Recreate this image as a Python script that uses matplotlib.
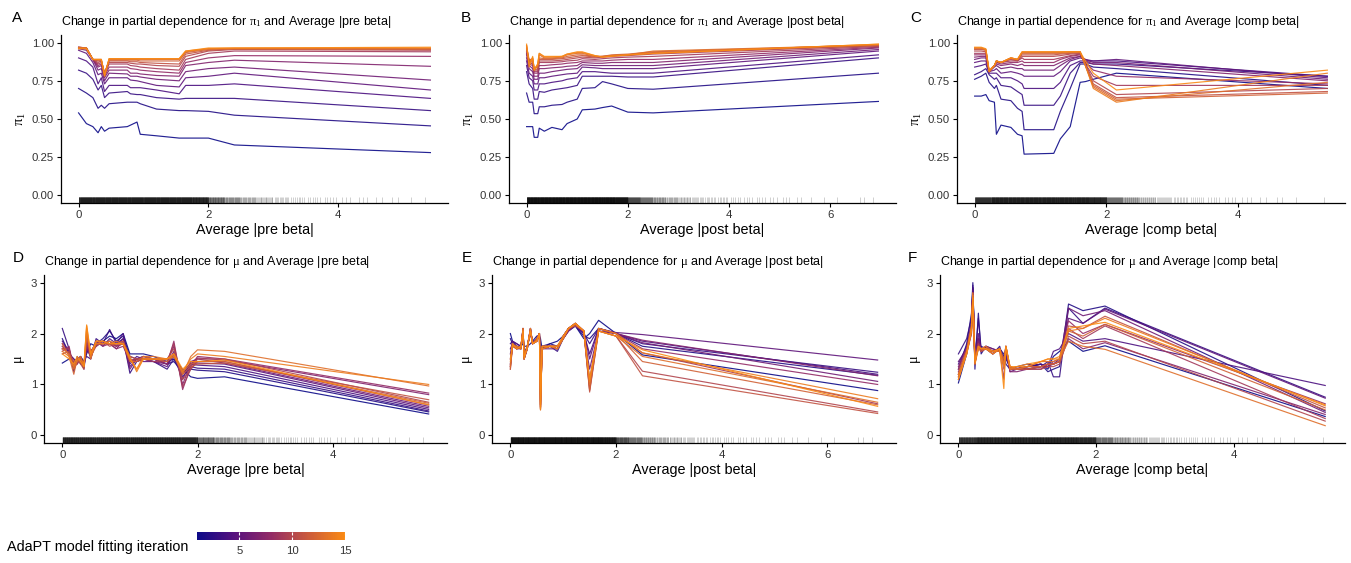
import numpy as np
import matplotlib.pyplot as plt
from matplotlib.colors import LinearSegmentedColormap, Normalize
from matplotlib.cm import ScalarMappable

plt.rcParams['font.family'] = ['Liberation Sans', 'DejaVu Sans']
plt.rcParams['mathtext.fontset'] = 'custom'
plt.rcParams['mathtext.rm'] = 'Liberation Serif'
plt.rcParams['mathtext.it'] = 'Liberation Serif'
plt.rcParams['mathtext.default'] = 'rm'

iterations = list(range(1, 16))

# ---- partial dependence, pi1 vs average |pre beta| ----
x_pre_pi = [0, 0.12, 0.22, 0.3, 0.35, 0.4, 0.47, 0.75, 0.8, 0.9, 0.95, 1.2, 1.55, 1.65, 2.0, 2.4, 5.42]
pi_pre = [
    [0.54, 0.47, 0.45, 0.41, 0.45, 0.42, 0.44, 0.45, 0.46, 0.48, 0.40, 0.39, 0.375, 0.375, 0.375, 0.33, 0.28],
    [0.70, 0.67, 0.64, 0.57, 0.59, 0.57, 0.60, 0.61, 0.61, 0.61, 0.60, 0.565, 0.555, 0.555, 0.55, 0.525, 0.455],
    [0.82, 0.80, 0.76, 0.69, 0.72, 0.64, 0.67, 0.68, 0.665, 0.66, 0.66, 0.64, 0.63, 0.635, 0.635, 0.635, 0.555],
    [0.90, 0.88, 0.84, 0.73, 0.77, 0.68, 0.72, 0.72, 0.705, 0.705, 0.705, 0.69, 0.665, 0.72, 0.72, 0.73, 0.635],
    [0.95, 0.93, 0.87, 0.79, 0.80, 0.73, 0.77, 0.77, 0.755, 0.75, 0.745, 0.72, 0.71, 0.77, 0.78, 0.80, 0.69],
    [0.96, 0.95, 0.89, 0.82, 0.83, 0.75, 0.80, 0.795, 0.78, 0.78, 0.775, 0.76, 0.75, 0.81, 0.83, 0.84, 0.755],
    [0.965, 0.96, 0.89, 0.84, 0.85, 0.77, 0.82, 0.82, 0.80, 0.80, 0.795, 0.785, 0.78, 0.85, 0.87, 0.885, 0.845],
    [0.965, 0.96, 0.89, 0.85, 0.86, 0.78, 0.84, 0.84, 0.83, 0.825, 0.82, 0.81, 0.80, 0.87, 0.90, 0.915, 0.91],
    [0.97, 0.965, 0.89, 0.86, 0.87, 0.79, 0.86, 0.86, 0.85, 0.845, 0.84, 0.83, 0.82, 0.89, 0.93, 0.945, 0.94],
    [0.97, 0.965, 0.89, 0.87, 0.88, 0.80, 0.87, 0.87, 0.865, 0.86, 0.86, 0.85, 0.845, 0.91, 0.945, 0.955, 0.95],
    [0.97, 0.965, 0.89, 0.88, 0.88, 0.80, 0.88, 0.88, 0.875, 0.875, 0.87, 0.865, 0.86, 0.925, 0.95, 0.96, 0.955],
    [0.965, 0.965, 0.89, 0.885, 0.885, 0.80, 0.885, 0.885, 0.885, 0.885, 0.88, 0.88, 0.88, 0.935, 0.955, 0.96, 0.96],
    [0.965, 0.965, 0.89, 0.89, 0.89, 0.79, 0.89, 0.89, 0.89, 0.89, 0.89, 0.89, 0.89, 0.94, 0.96, 0.96, 0.96],
    [0.965, 0.965, 0.89, 0.89, 0.89, 0.785, 0.895, 0.895, 0.895, 0.895, 0.895, 0.895, 0.895, 0.945, 0.96, 0.965, 0.965],
    [0.96, 0.96, 0.89, 0.89, 0.89, 0.78, 0.895, 0.895, 0.895, 0.895, 0.895, 0.895, 0.895, 0.945, 0.965, 0.965, 0.97],
]

# ---- pi1 vs average |post beta| ----
x_post_pi = [0, 0.05, 0.12, 0.15, 0.22, 0.25, 0.35, 0.5, 0.7, 0.8, 1.0, 1.1, 1.35, 1.5, 1.68, 2.0, 2.5, 6.95]
pi_post = [
    [0.45, 0.45, 0.45, 0.38, 0.38, 0.44, 0.42, 0.445, 0.43, 0.47, 0.50, 0.56, 0.565, 0.575, 0.585, 0.545, 0.54, 0.615],
    [0.67, 0.61, 0.61, 0.535, 0.535, 0.58, 0.58, 0.59, 0.595, 0.61, 0.63, 0.70, 0.705, 0.745, 0.73, 0.70, 0.695, 0.80],
    [0.81, 0.73, 0.70, 0.63, 0.63, 0.68, 0.675, 0.69, 0.70, 0.705, 0.72, 0.78, 0.78, 0.78, 0.78, 0.775, 0.775, 0.90],
    [0.85, 0.77, 0.75, 0.69, 0.69, 0.73, 0.73, 0.74, 0.75, 0.76, 0.77, 0.81, 0.81, 0.805, 0.80, 0.80, 0.80, 0.92],
    [0.88, 0.80, 0.78, 0.73, 0.73, 0.77, 0.77, 0.78, 0.79, 0.795, 0.80, 0.84, 0.835, 0.83, 0.83, 0.83, 0.83, 0.945],
    [0.90, 0.83, 0.81, 0.76, 0.76, 0.80, 0.80, 0.81, 0.82, 0.825, 0.83, 0.855, 0.85, 0.85, 0.85, 0.85, 0.85, 0.955],
    [0.92, 0.85, 0.83, 0.78, 0.78, 0.83, 0.83, 0.835, 0.84, 0.845, 0.85, 0.87, 0.865, 0.865, 0.87, 0.87, 0.87, 0.965],
    [0.93, 0.86, 0.85, 0.80, 0.80, 0.85, 0.85, 0.855, 0.86, 0.865, 0.87, 0.88, 0.88, 0.88, 0.885, 0.89, 0.89, 0.97],
    [0.94, 0.87, 0.86, 0.81, 0.81, 0.87, 0.87, 0.87, 0.875, 0.88, 0.885, 0.895, 0.89, 0.895, 0.90, 0.905, 0.91, 0.975],
    [0.95, 0.88, 0.87, 0.82, 0.82, 0.88, 0.88, 0.88, 0.885, 0.89, 0.90, 0.905, 0.90, 0.905, 0.91, 0.915, 0.925, 0.98],
    [0.96, 0.88, 0.88, 0.82, 0.83, 0.89, 0.89, 0.89, 0.895, 0.90, 0.91, 0.915, 0.905, 0.91, 0.915, 0.92, 0.935, 0.98],
    [0.97, 0.89, 0.89, 0.83, 0.84, 0.90, 0.895, 0.895, 0.90, 0.91, 0.92, 0.92, 0.91, 0.91, 0.92, 0.925, 0.94, 0.985],
    [0.98, 0.87, 0.90, 0.83, 0.85, 0.92, 0.90, 0.90, 0.905, 0.92, 0.93, 0.93, 0.91, 0.91, 0.915, 0.92, 0.945, 0.985],
    [0.98, 0.86, 0.90, 0.82, 0.86, 0.93, 0.905, 0.905, 0.91, 0.925, 0.935, 0.935, 0.915, 0.905, 0.915, 0.92, 0.93, 0.99],
    [0.99, 0.84, 0.91, 0.82, 0.86, 0.93, 0.91, 0.91, 0.91, 0.925, 0.94, 0.94, 0.915, 0.905, 0.91, 0.92, 0.93, 0.99],
]

# ---- pi1 vs average |comp beta| ----
x_comp_pi = [0, 0.1, 0.17, 0.22, 0.3, 0.33, 0.4, 0.55, 0.65, 0.72, 0.75, 1.2, 1.3, 1.45, 1.6, 1.68, 1.8, 2.15, 5.35]
pi_comp = [
    [0.65, 0.65, 0.66, 0.62, 0.61, 0.40, 0.46, 0.445, 0.40, 0.39, 0.27, 0.275, 0.37, 0.45, 0.74, 0.745, 0.76, 0.80, 0.70],
    [0.76, 0.78, 0.80, 0.74, 0.70, 0.72, 0.63, 0.62, 0.57, 0.55, 0.43, 0.43, 0.55, 0.70, 0.86, 0.86, 0.84, 0.83, 0.72],
    [0.79, 0.81, 0.83, 0.79, 0.76, 0.77, 0.72, 0.71, 0.68, 0.66, 0.59, 0.59, 0.65, 0.80, 0.87, 0.87, 0.86, 0.86, 0.78],
    [0.84, 0.85, 0.86, 0.80, 0.80, 0.80, 0.77, 0.77, 0.75, 0.73, 0.70, 0.70, 0.74, 0.85, 0.88, 0.88, 0.88, 0.88, 0.78],
    [0.87, 0.88, 0.88, 0.81, 0.82, 0.83, 0.80, 0.81, 0.80, 0.79, 0.78, 0.78, 0.81, 0.88, 0.90, 0.89, 0.88, 0.89, 0.77],
    [0.89, 0.90, 0.90, 0.81, 0.84, 0.85, 0.83, 0.84, 0.83, 0.83, 0.82, 0.82, 0.85, 0.89, 0.91, 0.89, 0.87, 0.87, 0.76],
    [0.905, 0.91, 0.91, 0.81, 0.85, 0.86, 0.85, 0.86, 0.85, 0.86, 0.85, 0.85, 0.87, 0.90, 0.91, 0.88, 0.86, 0.85, 0.75],
    [0.92, 0.92, 0.92, 0.81, 0.85, 0.87, 0.86, 0.87, 0.87, 0.88, 0.87, 0.87, 0.89, 0.91, 0.92, 0.87, 0.82, 0.78, 0.73],
    [0.93, 0.93, 0.93, 0.81, 0.85, 0.87, 0.87, 0.88, 0.88, 0.90, 0.89, 0.89, 0.90, 0.915, 0.925, 0.86, 0.78, 0.72, 0.72],
    [0.945, 0.945, 0.94, 0.81, 0.85, 0.88, 0.87, 0.89, 0.88, 0.91, 0.91, 0.91, 0.915, 0.925, 0.93, 0.86, 0.75, 0.66, 0.70],
    [0.955, 0.955, 0.95, 0.81, 0.85, 0.88, 0.87, 0.895, 0.885, 0.92, 0.92, 0.92, 0.925, 0.93, 0.935, 0.85, 0.73, 0.64, 0.68],
    [0.96, 0.96, 0.95, 0.81, 0.85, 0.88, 0.87, 0.90, 0.89, 0.93, 0.93, 0.93, 0.93, 0.935, 0.94, 0.85, 0.72, 0.63, 0.67],
    [0.965, 0.965, 0.955, 0.81, 0.85, 0.88, 0.87, 0.90, 0.89, 0.935, 0.935, 0.935, 0.935, 0.94, 0.94, 0.85, 0.71, 0.62, 0.74],
    [0.965, 0.965, 0.955, 0.81, 0.85, 0.88, 0.87, 0.90, 0.89, 0.94, 0.94, 0.94, 0.94, 0.94, 0.94, 0.85, 0.70, 0.61, 0.80],
    [0.97, 0.97, 0.96, 0.82, 0.85, 0.88, 0.87, 0.90, 0.89, 0.94, 0.94, 0.94, 0.94, 0.94, 0.94, 0.88, 0.80, 0.69, 0.82],
]

# ---- mu vs average |pre beta| ----
x_pre_mu = [0, 0.1, 0.17, 0.22, 0.27, 0.32, 0.36, 0.42, 0.5, 0.6, 0.7, 0.8, 0.9, 1.0, 1.1, 1.2, 1.35, 1.55, 1.65, 1.78, 1.9, 2.0, 2.4, 5.42]
mu_pre = [
    [1.42, 1.5, 1.45, 1.5, 1.55, 1.45, 1.6, 1.8, 1.75, 1.85, 1.95, 1.9, 2.0, 1.6, 1.6, 1.6, 1.55, 1.45, 1.5, 1.3, 1.15, 1.12, 1.15, 0.42],
    [1.9, 1.6, 1.5, 1.45, 1.5, 1.35, 1.7, 1.65, 1.8, 1.9, 2.05, 1.85, 1.95, 1.55, 1.5, 1.55, 1.5, 1.4, 1.45, 1.25, 1.3, 1.28, 1.25, 0.46],
    [2.1, 1.7, 1.25, 1.55, 1.4, 1.45, 1.55, 1.5, 1.9, 1.8, 2.08, 1.8, 1.9, 1.22, 1.45, 1.5, 1.45, 1.3, 1.5, 1.15, 1.35, 1.32, 1.3, 0.48],
    [1.85, 1.65, 1.4, 1.5, 1.45, 1.3, 1.75, 1.6, 1.85, 1.75, 1.9, 1.8, 2.0, 1.4, 1.55, 1.5, 1.5, 1.4, 1.55, 1.2, 1.4, 1.38, 1.35, 0.51],
    [1.75, 1.6, 1.5, 1.4, 1.55, 1.4, 1.7, 1.55, 1.8, 1.8, 1.85, 1.75, 1.9, 1.35, 1.5, 1.45, 1.45, 1.35, 1.6, 1.25, 1.42, 1.42, 1.4, 0.54],
    [1.8, 1.65, 1.35, 1.45, 1.5, 1.35, 1.8, 1.65, 1.75, 1.85, 1.8, 1.7, 1.85, 1.3, 1.5, 1.5, 1.45, 1.4, 1.65, 1.1, 1.45, 1.5, 1.42, 0.57],
    [1.7, 1.7, 1.3, 1.5, 1.5, 1.4, 1.75, 1.55, 1.8, 1.8, 1.85, 1.75, 1.8, 1.5, 1.45, 1.5, 1.5, 1.45, 1.75, 1.0, 1.4, 1.52, 1.48, 0.80],
    [1.65, 1.75, 1.3, 1.45, 1.55, 1.35, 1.8, 1.5, 1.85, 1.75, 1.8, 1.7, 1.75, 1.45, 1.5, 1.55, 1.5, 1.4, 1.85, 0.9, 1.35, 1.55, 1.5, 0.83],
    [1.7, 1.7, 1.35, 1.4, 1.5, 1.4, 1.85, 1.6, 1.8, 1.8, 1.8, 1.75, 1.8, 1.45, 1.5, 1.5, 1.45, 1.45, 1.8, 0.95, 1.3, 1.45, 1.45, 0.60],
    [1.6, 1.65, 1.4, 1.45, 1.45, 1.35, 1.9, 1.55, 1.75, 1.85, 1.75, 1.8, 1.85, 1.5, 1.45, 1.5, 1.5, 1.5, 1.7, 1.1, 1.3, 1.5, 1.5, 0.65],
    [1.75, 1.6, 1.45, 1.5, 1.4, 1.3, 1.95, 1.65, 1.8, 1.8, 1.8, 1.8, 1.85, 1.55, 1.5, 1.5, 1.5, 1.5, 1.6, 1.2, 1.35, 1.4, 1.42, 0.70],
    [1.8, 1.55, 1.2, 1.5, 1.45, 1.35, 2.0, 1.6, 1.85, 1.8, 1.8, 1.8, 1.8, 1.45, 1.45, 1.55, 1.5, 1.45, 1.55, 1.25, 1.4, 1.45, 1.45, 0.63],
    [1.7, 1.6, 1.3, 1.45, 1.55, 1.35, 2.1, 1.5, 1.85, 1.85, 1.8, 1.85, 1.8, 1.5, 1.3, 1.55, 1.55, 1.5, 1.6, 1.2, 1.55, 1.68, 1.65, 0.97],
    [1.65, 1.55, 1.35, 1.5, 1.5, 1.4, 2.15, 1.55, 1.8, 1.8, 1.85, 1.8, 1.8, 1.55, 1.25, 1.5, 1.5, 1.5, 1.55, 1.25, 1.5, 1.6, 1.55, 1.0],
    [1.6, 1.5, 1.4, 1.55, 1.45, 1.35, 2.17, 1.6, 1.85, 1.85, 1.8, 1.8, 1.8, 1.5, 1.3, 1.5, 1.5, 1.5, 1.6, 1.3, 1.45, 1.45, 1.48, 0.60],
]

# ---- mu vs average |post beta| ----
x_post_mu = [0, 0.04, 0.12, 0.2, 0.24, 0.26, 0.32, 0.38, 0.42, 0.5, 0.55, 0.57, 0.6, 0.75, 0.89, 1.0, 1.1, 1.23, 1.39, 1.5, 1.67, 2.0, 2.5, 6.95]
mu_post = [
    [2.0, 1.85, 1.8, 1.75, 1.8, 1.75, 1.75, 1.8, 1.85, 1.95, 1.95, 1.9, 1.7, 1.8, 1.85, 1.95, 2.1, 2.15, 1.9, 2.0, 2.26, 2.0, 1.58, 0.88],
    [1.9, 1.8, 1.75, 1.7, 2.05, 1.6, 1.75, 2.05, 1.8, 1.9, 2.0, 1.3, 1.75, 1.8, 1.75, 1.9, 2.05, 2.15, 1.95, 1.9, 2.1, 2.0, 1.75, 1.18],
    [1.8, 1.85, 1.75, 1.75, 2.1, 1.55, 1.75, 2.1, 1.8, 1.9, 2.0, 1.0, 1.7, 1.75, 1.65, 1.9, 2.1, 2.15, 2.0, 1.8, 2.1, 2.0, 1.8, 1.24],
    [1.7, 1.8, 1.7, 1.75, 2.05, 1.5, 1.7, 2.05, 1.85, 1.85, 2.0, 0.9, 1.7, 1.75, 1.7, 1.95, 2.1, 2.15, 2.0, 1.6, 2.1, 2.0, 1.85, 1.20],
    [1.6, 1.85, 1.8, 1.75, 2.0, 1.55, 1.75, 2.0, 1.8, 1.9, 2.0, 0.8, 1.75, 1.75, 1.75, 1.9, 2.05, 2.15, 2.05, 1.5, 2.1, 2.02, 1.98, 1.48],
    [1.5, 1.8, 1.7, 1.7, 2.1, 1.5, 1.7, 2.1, 1.8, 1.85, 2.0, 0.7, 1.7, 1.7, 1.7, 1.9, 2.1, 2.2, 2.0, 1.3, 2.05, 2.0, 1.82, 1.06],
    [1.4, 1.75, 1.75, 1.7, 2.05, 1.55, 1.75, 2.05, 1.8, 1.85, 2.0, 0.6, 1.7, 1.75, 1.7, 1.95, 2.1, 2.2, 2.05, 1.1, 2.05, 2.0, 1.87, 1.17],
    [1.35, 1.8, 1.7, 1.75, 2.1, 1.5, 1.7, 2.1, 1.8, 1.85, 2.0, 0.55, 1.7, 1.75, 1.75, 1.9, 2.05, 2.2, 2.05, 1.0, 2.1, 2.0, 1.7, 1.0],
    [1.3, 1.75, 1.7, 1.75, 2.05, 1.5, 1.75, 2.05, 1.8, 1.9, 2.0, 0.52, 1.7, 1.75, 1.7, 1.95, 2.1, 2.2, 2.05, 0.95, 2.1, 2.0, 1.62, 0.62],
    [1.35, 1.8, 1.75, 1.7, 2.1, 1.55, 1.7, 2.1, 1.8, 1.85, 2.0, 0.55, 1.75, 1.75, 1.75, 1.9, 2.1, 2.2, 2.05, 0.88, 2.05, 1.95, 1.26, 0.46],
    [1.4, 1.75, 1.7, 1.75, 2.05, 1.5, 1.75, 2.05, 1.8, 1.85, 2.0, 0.6, 1.7, 1.75, 1.75, 1.9, 2.1, 2.15, 2.05, 0.85, 2.05, 1.95, 1.17, 0.43],
    [1.3, 1.75, 1.75, 1.7, 2.1, 1.55, 1.7, 2.1, 1.8, 1.85, 2.0, 0.55, 1.7, 1.75, 1.7, 1.9, 2.1, 2.2, 2.05, 0.9, 2.1, 2.0, 1.45, 0.60],
    [1.35, 1.8, 1.7, 1.75, 2.05, 1.5, 1.75, 2.05, 1.8, 1.9, 2.0, 0.5, 1.75, 1.75, 1.75, 1.95, 2.1, 2.2, 2.05, 1.0, 2.05, 1.95, 1.55, 0.65],
    [1.45, 1.75, 1.75, 1.7, 2.1, 1.55, 1.7, 2.1, 1.8, 1.85, 2.0, 0.5, 1.7, 1.75, 1.7, 1.9, 2.1, 2.18, 2.05, 1.05, 2.1, 2.0, 1.62, 0.72],
    [1.5, 1.8, 1.7, 1.75, 2.05, 1.5, 1.75, 2.05, 1.8, 1.85, 2.0, 0.52, 1.75, 1.75, 1.75, 1.95, 2.1, 2.2, 2.05, 1.1, 2.05, 1.95, 1.68, 0.57],
]

# ---- mu vs average |comp beta| ----
x_comp_mu = [0, 0.12, 0.19, 0.21, 0.24, 0.29, 0.33, 0.4, 0.5, 0.6, 0.66, 0.69, 0.75, 0.85, 1.0, 1.2, 1.3, 1.38, 1.47, 1.6, 1.81, 2.13, 5.33]
mu_comp = [
    [1.03, 1.6, 2.2, 2.9, 1.6, 1.7, 1.75, 1.7, 1.65, 1.7, 1.55, 1.5, 1.35, 1.3, 1.35, 1.4, 1.3, 1.55, 1.65, 1.85, 1.65, 1.76, 0.37],
    [1.3, 1.8, 2.4, 3.0, 1.3, 2.4, 1.6, 1.75, 1.65, 1.7, 1.6, 1.4, 1.3, 1.3, 1.35, 1.4, 1.25, 1.3, 1.35, 2.58, 2.45, 2.54, 0.48],
    [1.6, 1.9, 2.3, 2.95, 1.5, 2.3, 1.7, 1.7, 1.6, 1.75, 1.45, 1.6, 1.3, 1.35, 1.4, 1.35, 1.45, 1.15, 1.15, 2.5, 2.2, 2.5, 0.75],
    [1.4, 1.75, 2.2, 2.9, 1.4, 1.9, 1.65, 1.75, 1.7, 1.65, 1.5, 1.55, 1.3, 1.3, 1.35, 1.4, 1.35, 1.65, 1.7, 2.0, 1.85, 1.9, 0.98],
    [1.45, 1.7, 2.1, 2.85, 1.5, 2.0, 1.7, 1.7, 1.65, 1.7, 1.4, 1.7, 1.25, 1.3, 1.3, 1.35, 1.4, 1.4, 1.5, 2.3, 2.2, 2.48, 0.73],
    [1.2, 1.65, 2.0, 2.8, 1.55, 1.9, 1.65, 1.75, 1.7, 1.65, 1.5, 1.75, 1.3, 1.35, 1.3, 1.3, 1.4, 1.4, 1.45, 2.5, 2.35, 2.45, 0.45],
    [1.35, 1.7, 2.2, 2.8, 1.45, 1.85, 1.7, 1.7, 1.6, 1.7, 1.45, 1.7, 1.25, 1.25, 1.3, 1.35, 1.35, 1.4, 1.45, 1.9, 1.7, 1.82, 0.41],
    [1.25, 1.65, 2.1, 2.75, 1.4, 1.8, 1.65, 1.7, 1.65, 1.7, 1.4, 1.7, 1.3, 1.3, 1.3, 1.35, 1.35, 1.45, 1.5, 2.25, 2.0, 2.18, 0.62],
    [1.3, 1.7, 2.15, 2.8, 1.5, 1.8, 1.7, 1.7, 1.65, 1.65, 1.1, 1.75, 1.3, 1.3, 1.35, 1.35, 1.4, 1.4, 1.45, 2.1, 1.9, 2.15, 0.33],
    [1.15, 1.6, 2.0, 2.7, 1.45, 1.7, 1.7, 1.75, 1.6, 1.7, 1.45, 1.75, 1.3, 1.3, 1.3, 1.3, 1.35, 1.35, 1.4, 1.95, 1.8, 1.85, 0.28],
    [1.2, 1.65, 2.1, 2.75, 1.45, 1.75, 1.7, 1.7, 1.65, 1.7, 1.3, 1.7, 1.35, 1.3, 1.3, 1.35, 1.4, 1.4, 1.45, 2.15, 2.1, 2.34, 0.54],
    [1.1, 1.6, 2.05, 2.7, 1.4, 1.7, 1.65, 1.7, 1.6, 1.7, 1.5, 1.7, 1.3, 1.3, 1.35, 1.35, 1.4, 1.4, 1.45, 2.05, 1.95, 2.18, 0.50],
    [1.15, 1.6, 2.1, 2.75, 1.45, 1.75, 1.7, 1.75, 1.65, 1.65, 1.4, 1.75, 1.35, 1.3, 1.35, 1.45, 1.45, 1.45, 1.5, 1.85, 1.75, 1.69, 0.19],
    [1.2, 1.65, 2.15, 2.8, 1.5, 1.7, 1.7, 1.7, 1.6, 1.7, 1.35, 1.75, 1.3, 1.35, 1.35, 1.45, 1.5, 1.5, 1.5, 2.05, 2.1, 2.3, 0.58],
    [1.1, 1.6, 2.05, 2.7, 1.4, 1.75, 1.7, 1.7, 1.65, 1.7, 0.92, 1.75, 1.35, 1.35, 1.4, 1.45, 1.5, 1.5, 1.55, 2.1, 2.15, 2.22, 0.60],
]

# ---- rug: number of observations per 0.25-wide bin of each feature ----
rug_bin = 0.25
rug_pre = [160, 160, 160, 160, 160, 160, 160, 150, 70, 45, 28, 18, 12, 8, 6, 5, 3, 3, 2, 2, 1, 1]
rug_post = [160, 160, 160, 160, 160, 160, 160, 150, 75, 50, 32, 22, 16, 11, 8, 7, 5, 4, 4, 3, 3, 2, 1, 1, 1, 0, 2, 1]
rug_comp = [130, 160, 160, 160, 160, 160, 160, 150, 65, 40, 24, 15, 10, 7, 5, 4, 3, 2, 2, 1, 0, 1]
max_pre, max_post, max_comp = 5.42, 6.95, 5.35

W, H = 1351, 563
fig = plt.figure(figsize=(W / 100, H / 100), dpi=100)

cmap = LinearSegmentedColormap.from_list(
    'iter', ['#0c0a88', '#56117e', '#932b66', '#ca5a3c', '#fa8a14'])
norm = Normalize(1, 15)


def px_axes(l, t, r, b):
    return fig.add_axes([l / W, 1 - b / H, (r - l) / W, (b - t) / H])


def rug_x(counts, xmax):
    xs = []
    for i, n in enumerate(counts):
        if n == 0:
            continue
        lo = i * rug_bin
        hi = min(lo + rug_bin, xmax)
        xs.extend(np.linspace(lo, hi, n + 2)[1:-1])
    return np.array(xs)


panels = [
    ('A', (61, 35, 448, 203), x_pre_pi, pi_pre, rug_pre, max_pre, 'pre', 'pi'),
    ('B', (509, 35, 896, 203), x_post_pi, pi_post, rug_post, max_post, 'post', 'pi'),
    ('C', (957, 35, 1345, 203), x_comp_pi, pi_comp, rug_comp, max_comp, 'comp', 'pi'),
    ('D', (44, 275, 447, 443), x_pre_mu, mu_pre, rug_pre, max_pre, 'pre', 'mu'),
    ('E', (492, 275, 896, 443), x_post_mu, mu_post, rug_post, max_post, 'post', 'mu'),
    ('F', (940, 275, 1345, 443), x_comp_mu, mu_comp, rug_comp, max_comp, 'comp', 'mu'),
]
tag_pos = {'A': (12, 18), 'B': (461, 18), 'C': (910, 18),
           'D': (13, 258), 'E': (462, 258), 'F': (908, 258)}

for tag, box, xs, ys, rug, xmax, feat, par in panels:
    ax = px_axes(*box)
    for it, y in zip(iterations, ys):
        ax.plot(xs, y, color=cmap(norm(it)), lw=0.85, alpha=0.9)
    rx = rug_x(rug, xmax)
    ax.vlines(rx, 0, 0.035, transform=ax.get_xaxis_transform(),
              color='black', alpha=0.22, lw=0.6)
    ax.set_xlim(-0.05 * xmax, 1.05 * xmax)
    if par == 'pi':
        ax.set_ylim(-0.05, 1.05)
        ax.set_yticks([0, 0.25, 0.5, 0.75, 1.0])
        ax.set_yticklabels(['0.00', '0.25', '0.50', '0.75', '1.00'])
        sym = r'$\pi_1$'
    else:
        ax.set_ylim(-0.15, 3.15)
        ax.set_yticks([0, 1, 2, 3])
        sym = r'$\mu$'
    ax.set_xticks(np.arange(0, xmax, 2))
    ax.set_ylabel(sym, fontsize=10.5, labelpad=3)
    ax.set_xlabel(f'Average |{feat} beta|', fontsize=10.4, labelpad=2)
    ax.set_title(f'Change in partial dependence for {sym} and Average |{feat} beta|',
                 loc='left', fontsize=9.0, pad=7)
    for s in ['top', 'right']:
        ax.spines[s].set_visible(False)
    for s in ['left', 'bottom']:
        ax.spines[s].set_linewidth(0.9)
    ax.tick_params(direction='out', length=3, width=0.8, labelsize=8.2,
                   labelcolor='#333333', pad=2)
    tx, ty = tag_pos[tag]
    fig.text(tx / W, 1 - ty / H, tag, fontsize=11, va='center', ha='left')

# colour legend
cax = px_axes(197, 532, 345, 540)
sm = ScalarMappable(norm=norm, cmap=cmap)
cb = fig.colorbar(sm, cax=cax, orientation='horizontal', ticks=[5, 10, 15])
cb.outline.set_visible(False)
cax.tick_params(direction='in', length=2.5, color='white', width=0.8,
                labelsize=8.2, labelcolor='#333333', pad=4, top=True)
fig.text(7 / W, 1 - 547 / H, 'AdaPT model fitting iteration', fontsize=10.4,
         va='center', ha='left')

fig.savefig('out.png', dpi=100)
